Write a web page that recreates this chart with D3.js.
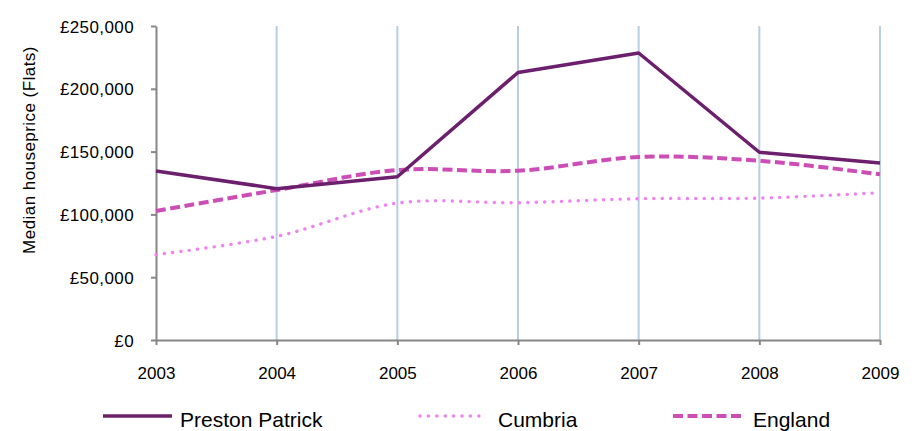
<!DOCTYPE html>
<html><head><meta charset="utf-8">
<script src="https://cdn.jsdelivr.net/npm/d3@7"></script>
<style>body{margin:0;background:#fff}svg{display:block}text{font-family:"Liberation Sans",Arial,sans-serif}</style>
</head><body><svg id="c" width="917" height="431"></svg>
<script>
const years = ["2003","2004","2005","2006","2007","2008","2009"];
const prestonPatrick = [134500, 120500, 130000, 213000, 228500, 149500, 141000];
const cumbria = [68000, 82500, 109000, 109300, 112500, 113000, 117300];
const england = [102700, 119400, 135300, 134800, 145700, 142700, 131900];
const yTicks = [0, 50000, 100000, 150000, 200000, 250000];
const seriesNames = ["Preston Patrick", "Cumbria", "England"];

const svg = d3.select("#c");
const x = d3.scalePoint().domain(years).range([156, 880]);
const y = d3.scaleLinear().domain([0, 250000]).range([340, 26]);
const fmt = v => "£" + d3.format(",")(v);

// gridlines
svg.append("g").selectAll("line").data(years.slice(1)).join("line")
  .attr("x1", d => x(d)).attr("x2", d => x(d)).attr("y1", y(250000)).attr("y2", y(0))
  .attr("stroke", "#B9CDE5").attr("stroke-width", 2);

// y axis
const ya = svg.append("g").attr("transform", "translate(156,0)")
  .call(d3.axisLeft(y).tickValues(yTicks).tickFormat(fmt).tickSize(5).tickSizeOuter(0));
ya.select(".domain").attr("stroke", "#868686").attr("stroke-width", 2);
ya.selectAll(".tick line").attr("stroke", "#868686").attr("stroke-width", 2);
ya.selectAll("text").attr("font-size", 17).attr("fill", "#000").attr("x", -22)
  .attr("letter-spacing", 0.4).attr("dy", "0.36em")
  .attr("font-family", "Liberation Sans, Arial, sans-serif");

// x axis
const xa = svg.append("g").attr("transform", "translate(0,340)")
  .call(d3.axisBottom(x).tickSize(5).tickSizeOuter(0));
xa.select(".domain").attr("stroke", "#868686").attr("stroke-width", 2);
xa.selectAll(".tick line").attr("stroke", "#868686").attr("stroke-width", 2);
xa.selectAll("text").attr("font-size", 17).attr("fill", "#000").attr("y", 39).attr("dy", 0)
  .attr("font-family", "Liberation Sans, Arial, sans-serif");

// axis title
svg.append("text").attr("transform", "translate(35,150) rotate(-90)")
  .attr("text-anchor", "middle").attr("font-size", 17).attr("letter-spacing", 0.45)
  .text("Median houseprice (Flats)");

const styles = [
  {data: prestonPatrick, color: "#6C1F6C", dash: null, curve: d3.curveLinear, w: 3.5, cap: "butt"},
  {data: cumbria, color: "#F081F0", dash: "0.1 8.3", curve: d3.curveCatmullRom.alpha(0.5), w: 3.4, cap: "round"},
  {data: england, color: "#CC4DB5", dash: "10 4.5", curve: d3.curveCatmullRom.alpha(0.5), w: 4, cap: "butt"}
];
const drawOrder = [1, 2, 0];
drawOrder.forEach(i => {
  const s = styles[i];
  const line = d3.line().x((d, j) => x(years[j])).y(d => y(d)).curve(s.curve);
  svg.append("path").datum(s.data).attr("d", line).attr("fill", "none")
    .attr("stroke", s.color).attr("stroke-width", s.w)
    .attr("stroke-dasharray", s.dash).attr("stroke-linecap", s.cap).attr("stroke-linejoin", "round");
});

// legend
const legLine = [[103, 172], [420, 482], [673, 743]];
const legText = [180, 498, 753];
const legG = svg.append("g");
seriesNames.forEach((n, i) => {
  const s = styles[i];
  legG.append("line").attr("x1", legLine[i][0]).attr("x2", legLine[i][1]).attr("y1", 416).attr("y2", 416)
    .attr("stroke", s.color).attr("stroke-width", s.w).attr("stroke-dasharray", s.dash)
    .attr("stroke-linecap", s.cap);
  legG.append("text").attr("x", legText[i]).attr("y", 427)
    .attr("font-size", 21).text(n);
});
</script></body></html>
